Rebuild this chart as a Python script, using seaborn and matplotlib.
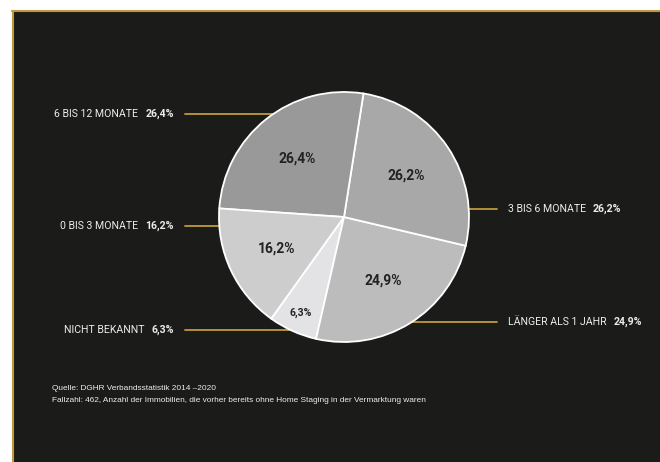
import matplotlib
matplotlib.use("Agg")
import matplotlib.pyplot as plt
from matplotlib.patches import Rectangle
from matplotlib.lines import Line2D
import numpy as np
import seaborn as sns

# Shares of listings by marketing duration before home staging (counter-clockwise order)
categories = ["NICHT BEKANNT", "LÄNGER ALS 1 JAHR", "3 BIS 6 MONATE", "6 BIS 12 MONATE", "0 BIS 3 MONATE"]
shares = [6.3, 24.9, 26.2, 26.4, 16.2]
value_labels = ["6,3%", "24,9%", "26,2%", "26,4%", "16,2%"]
wedge_colors = ["#e3e3e5", "#bcbcbc", "#a8a8a8", "#999999", "#cdcdcd"]

source_lines = [
    "Quelle: DGHR Verbandsstatistik 2014 \u20132020",
    "Fallzahl: 462, Anzahl der Immobilien, die vorher bereits ohne Home Staging in der Vermarktung waren",
]

# ---- layout (pixel units of the 660x462 canvas, origin top-left) ----
W, H = 660, 462
BG = "#1b1c1a"
GOLD = "#bf9a3c"
TEXT = "#ececec"
CX, CY, R = 344, 217, 125          # pie centre and radius
LIM = 1.1                          # axis half-range in radii
callout = {                        # side, row (px from top)
    "6 BIS 12 MONATE": ("left", 114),
    "0 BIS 3 MONATE": ("left", 226),
    "NICHT BEKANNT": ("left", 330),
    "3 BIS 6 MONATE": ("right", 209),
    "LÄNGER ALS 1 JAHR": ("right", 322),
}
LEFT_LINE_X, RIGHT_LINE_X = 185, 497
LEFT_TEXT_RIGHT, RIGHT_TEXT_LEFT = 174, 507.5
GAP = 7
LABEL_SIZE = 7.6

sns.set_theme(style="white")
plt.rcParams["font.family"] = ["Roboto", "DejaVu Sans"]

fig = plt.figure(figsize=(W / 100, H / 100), dpi=100)
fig.patch.set_facecolor("white")


def fx(x):
    return x / W


def fy(y):
    return 1 - y / H


# dark panel with gold top and left rules
fig.patches.append(Rectangle((fx(12), 0), 1 - fx(12), fy(11), transform=fig.transFigure,
                             facecolor=BG, edgecolor="none", zorder=-3))
fig.lines.append(Line2D([fx(12), 1], [fy(11), fy(11)], transform=fig.transFigure,
                        color=GOLD, lw=1.5, zorder=-2))
fig.lines.append(Line2D([fx(12.5), fx(12.5)], [fy(11), 0], transform=fig.transFigure,
                        color=GOLD, lw=1.5, zorder=-2))

# pie axes, square in pixels
half = R * LIM
ax = fig.add_axes([fx(CX - half), fy(CY + half), 2 * half / W, 2 * half / H])
ax.set_facecolor("none")
wedges, _ = ax.pie(shares, colors=wedge_colors, startangle=234.4, counterclock=True,
                   wedgeprops=dict(edgecolor="white", linewidth=1.3))
ax.set_xlim(-LIM, LIM)
ax.set_ylim(-LIM, LIM)
ax.axis("off")

# value labels inside the wedges
for w, lab, s in zip(wedges, value_labels, shares):
    mid = np.deg2rad((w.theta1 + w.theta2) / 2)
    r = 0.84 if s < 10 else 0.6
    ax.text(r * np.cos(mid), r * np.sin(mid), lab, ha="center", va="center",
            fontsize=7.5 if s < 10 else 10, fontweight="bold", color="#222222")

# callout rules behind the pie
for cat in categories:
    side, row = callout[cat]
    y = (CY - row) / R
    x0 = (LEFT_LINE_X - CX) / R if side == "left" else (RIGHT_LINE_X - CX) / R
    ax.plot([x0, 0], [y, y], color=GOLD, lw=1.3, zorder=0, clip_on=False)

# callout texts: category name plus bold share
fig.canvas.draw()
rend = fig.canvas.get_renderer()
for cat, lab in zip(categories, value_labels):
    side, row = callout[cat]
    if side == "left":
        v = fig.text(fx(LEFT_TEXT_RIGHT), fy(row), lab, ha="right", va="center",
                     fontsize=LABEL_SIZE, fontweight="bold", color=TEXT)
        bb = v.get_window_extent(rend)
        fig.text(fx(bb.x0 - GAP), fy(row), cat, ha="right", va="center",
                 fontsize=LABEL_SIZE, color=TEXT)
    else:
        n = fig.text(fx(RIGHT_TEXT_LEFT), fy(row), cat, ha="left", va="center",
                     fontsize=LABEL_SIZE, color=TEXT)
        bb = n.get_window_extent(rend)
        fig.text(fx(bb.x1 + GAP), fy(row), lab, ha="left", va="center",
                 fontsize=LABEL_SIZE, fontweight="bold", color=TEXT)

# source notes
for i, line in enumerate(source_lines):
    fig.text(fx(52), fy(388 + 13 * i), line, ha="left", va="center",
             fontsize=5.95, color=TEXT, family=["Liberation Sans", "DejaVu Sans"])

fig.savefig("out.png", dpi=100, facecolor=fig.get_facecolor())
